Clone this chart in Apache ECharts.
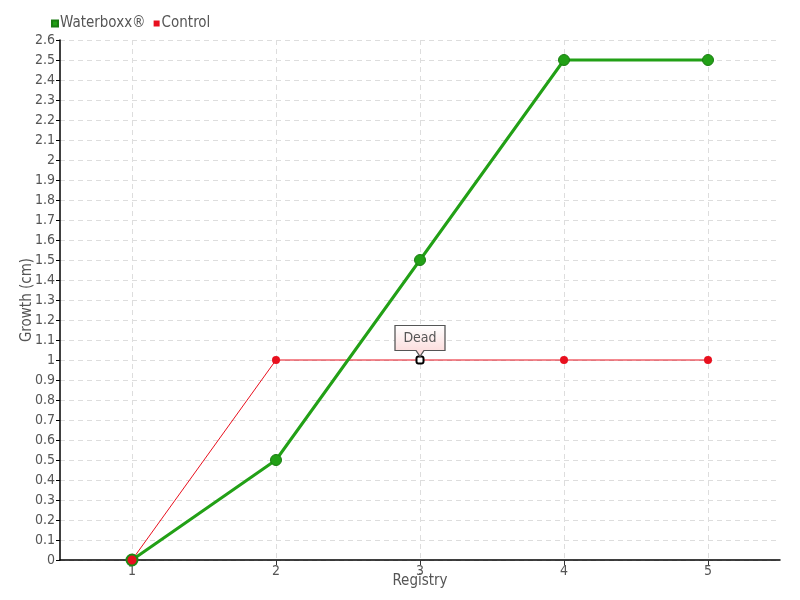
<!DOCTYPE html>
<html><head><meta charset="utf-8">
<script src="https://cdn.jsdelivr.net/npm/echarts@6/dist/echarts.min.js"></script>
<style>html,body{margin:0;padding:0;background:#fff}#c{width:800px;height:600px}</style>
</head><body><div id="c"></div>
<script>
const categories = [1, 2, 3, 4, 5];
const waterboxx = [0, 0.5, 1.5, 2.5, 2.5];
const control = [0, 1, 1, 1, 1];
const deadIndex = 2;
const deadLabel = 'Dead';
const seriesNames = ['Waterboxx®', 'Control'];
const yMin = 0, yMax = 2.6, yStep = 0.1;

const font = '"Liberation Sans Narrow", "DejaVu Sans Condensed", sans-serif';
const txt = '#555';
const green = '#22a016';
const red = '#e8101e';

const chart = echarts.init(document.getElementById('c'));
chart.setOption({
  animation: false,
  textStyle: { fontFamily: font, color: txt },
  legend: {
    data: seriesNames,
    left: 46, top: 11,
    icon: 'rect', itemWidth: 6, itemHeight: 6, itemGap: 8,
    textStyle: { fontFamily: font, color: txt, fontSize: 15, padding: [0, 0, 0, -3] }
  },
  grid: { left: 60, right: 20, top: 40, bottom: 40, outerBoundsMode: 'none', containLabel: false },
  xAxis: {
    type: 'value', min: categories[0] - 0.5, max: categories[categories.length - 1] + 0.5,
    name: 'Registry', nameLocation: 'middle', nameGap: 14, nameMoveOverlap: false,
    nameTextStyle: { fontFamily: font, color: txt, fontSize: 15 },
    axisLine: { lineStyle: { color: '#000', width: 1.5 } },
    axisTick: { show: true, customValues: categories, length: 5, lineStyle: { color: '#333' } },
    axisLabel: { customValues: categories, fontFamily: font, color: txt, fontSize: 14, margin: 4 },
    splitLine: { show: true, lineStyle: { color: '#ddd', type: [5, 4] } }
  },
  yAxis: {
    type: 'value', min: yMin, max: yMax, interval: yStep,
    name: 'Growth (cm)', nameLocation: 'middle', nameGap: 25, nameMoveOverlap: false,
    nameTextStyle: { fontFamily: font, color: txt, fontSize: 15 },
    axisLine: { show: true, lineStyle: { color: '#000', width: 1.5 } },
    axisTick: { show: true, length: 4, lineStyle: { color: '#000' } },
    axisLabel: { fontFamily: font, color: txt, fontSize: 14, margin: 5,
      formatter: v => String(parseFloat(v.toFixed(1))) },
    splitLine: { show: true, lineStyle: { color: '#ddd', type: [5, 4] } }
  },
  series: [
    {
      name: seriesNames[1], type: 'line', z: 2,
      data: control.map((v, i) => i === deadIndex ? {
        value: [categories[i], v], symbol: 'roundRect', symbolSize: 7,
        itemStyle: { color: '#fff', borderColor: '#000', borderWidth: 2 }
      } : [categories[i], v]),
      symbol: 'circle', symbolSize: 8,
      lineStyle: { color: red, width: 1 },
      itemStyle: { color: red },
      markPoint: {
        silent: true,
        data: [{
          coord: [categories[deadIndex], control[deadIndex]],
          symbol: 'path://M0,0L50,0L50,25L29,25L25,31L21,25L0,25Z',
          symbolSize: [50, 31],
          symbolOffset: [0, -19],
          itemStyle: {
            color: { type: 'linear', x: 0, y: 0, x2: 0, y2: 1,
              colorStops: [{ offset: 0, color: '#fff' }, { offset: 1, color: '#fbd6d6' }] },
            borderColor: '#555', borderWidth: 1
          },
          label: { show: true, formatter: deadLabel, color: txt, fontFamily: font, fontSize: 14, offset: [0, -3] }
        }]
      }
    },
    {
      name: seriesNames[0], type: 'line', z: 3,
      data: waterboxx.map((v, i) => i === 0 ? {
        value: [categories[i], v], itemStyle: { color: red, borderColor: '#1f8a14', borderWidth: 2 }
      } : [categories[i], v]),
      symbol: 'circle', symbolSize: 11,
      lineStyle: { color: green, width: 3 },
      itemStyle: { color: green, borderColor: '#1a7d12', borderWidth: 1 }
    }
  ]
});
</script></body></html>
